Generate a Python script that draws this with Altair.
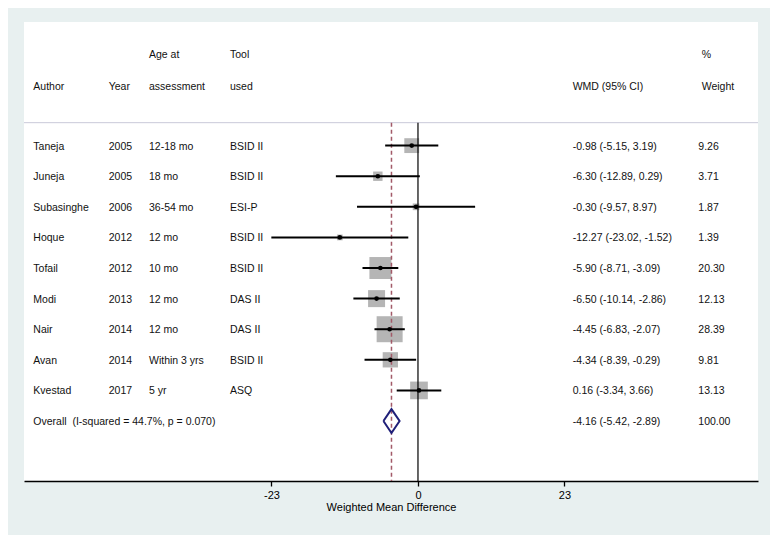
import altair as alt
import pandas as pd

# ---- data ----
authors = ["Taneja", "Juneja", "Subasinghe", "Hoque", "Tofail", "Modi", "Nair", "Avan", "Kvestad"]
years = ["2005", "2005", "2006", "2012", "2012", "2013", "2014", "2014", "2017"]
ages = ["12-18 mo", "18 mo", "36-54 mo", "12 mo", "10 mo", "12 mo", "12 mo", "Within 3 yrs", "5 yr"]
tools = ["BSID II", "BSID II", "ESI-P", "BSID II", "BSID II", "DAS II", "DAS II", "BSID II", "ASQ"]
wmd = [-0.98, -6.30, -0.30, -12.27, -5.90, -6.50, -4.45, -4.34, 0.16]
ci_lo = [-5.15, -12.89, -9.57, -23.02, -8.71, -10.14, -6.83, -8.39, -3.34]
ci_hi = [3.19, 0.29, 8.97, -1.52, -3.09, -2.86, -2.07, -0.29, 3.66]
weights = [9.26, 3.71, 1.87, 1.39, 20.30, 12.13, 28.39, 9.81, 13.13]
overall_est, overall_lo, overall_hi = -4.16, -5.42, -2.89
overall_weight = 100.00
i_squared, p_value = 44.7, 0.070
x_ticks = [-23, 0, 23]

# ---- tables built from the lists ----
n = len(authors)
rows = list(range(1, n + 1))
studies = pd.DataFrame({
    "row": rows, "wmd": wmd, "lo": ci_lo, "hi": ci_hi, "w": weights,
})
overall_row = n + 1
table = pd.DataFrame({
    "row": rows + [overall_row],
    "author": authors + [f"Overall\u00a0\u00a0(I-squared = {i_squared:.1f}%, p = {p_value:.3f})"],
    "year": years + [""],
    "age": ages + [""],
    "tool": tools + [""],
    "ci": [f"{e:.2f} ({l:.2f}, {h:.2f})" for e, l, h in zip(wmd, ci_lo, ci_hi)]
          + [f"{overall_est:.2f} ({overall_lo:.2f}, {overall_hi:.2f})"],
    "weight": [f"{w:.2f}" for w in weights] + [f"{overall_weight:.2f}"],
})
half_h = 0.39
diamond = pd.DataFrame({
    "x": [overall_lo, overall_est, overall_hi, overall_est, overall_lo],
    "row": [overall_row, overall_row - half_h, overall_row, overall_row + half_h, overall_row],
    "o": [0, 1, 2, 3, 4],
})

# ---- layout / style ----
W, H = 734, 459
FONT = "Liberation Sans"
FS = 10.5
xscale = alt.Scale(domain=[-61.85, 53.38], nice=False, zero=False)
yscale = alt.Scale(domain=[-3.04, 11.96], nice=False, zero=False, reverse=True)
xaxis = alt.Axis(values=x_ticks, grid=False, tickSize=5, tickWidth=1.3, tickColor="black",
                 domainColor="black", domainWidth=1.5, labelFont=FONT, labelFontSize=11,
                 labelColor="black", labelPadding=3, titleFont=FONT, titleFontSize=11,
                 titleFontWeight="normal", titleColor="black", titlePadding=1,
                 labelFlush=False,
                 labelExpr="datum.value < 0 ? '-' + abs(datum.value) : '' + datum.value")
XT = "Weighted Mean Difference"


def X(field):
    return alt.X(field, type="quantitative", scale=xscale, axis=xaxis, title=XT)


Y = alt.Y("row:Q", scale=yscale, axis=None)

sep_row = 0.25

base_rule = alt.Chart(pd.DataFrame({"a": [0]}))

separator = base_rule.mark_rule(color="#c9c9d9", strokeWidth=1).encode(
    x=alt.value(0), x2=alt.value(W), y=alt.YDatum(sep_row, scale=yscale, axis=None))

zero_line = base_rule.mark_rule(color="black", strokeWidth=1.2).encode(
    x=alt.XDatum(0, scale=xscale, axis=xaxis, title=XT),
    y=alt.YDatum(sep_row, scale=yscale, axis=None), y2=alt.Y2Datum(11.96))

dash_line = base_rule.mark_rule(color="#a25a68", strokeWidth=1.5, strokeDash=[4, 3]).encode(
    x=alt.XDatum(overall_est, scale=xscale, axis=xaxis, title=XT),
    y=alt.YDatum(sep_row, scale=yscale, axis=None), y2=alt.Y2Datum(11.96))

boxes = alt.Chart(studies).mark_square(filled=True, color="#b5b5b5", opacity=1).encode(
    x=X("wmd"), y=Y,
    size=alt.Size("w:Q", scale=alt.Scale(domain=[0, 100], range=[0, 2380]), legend=None))

cis = alt.Chart(studies).mark_rule(color="black", strokeWidth=2).encode(
    x=X("lo"), x2="hi", y=Y)

dots = alt.Chart(studies).mark_point(filled=True, shape="circle", size=22, color="black", opacity=1).encode(
    x=X("wmd"), y=Y)

dia = alt.Chart(diamond).mark_line(color="#1f1f78", strokeWidth=2).encode(
    x=X("x"), y=Y, order="o:Q")

cols = [
    ("author", 9.3, 9.3, "", "Author"),
    ("year", 84.7, 84.7, "", "Year"),
    ("age", 125, 125, "Age at", "assessment"),
    ("tool", 206, 206, "Tool", "used"),
    ("ci", 548.7, 548.7, "", "WMD (95% CI)"),
    ("weight", 674.3, 677.7, "%", "Weight"),
]
header_rows = [-1.98, -0.96]

text_layers = []
for field, xpx, hxpx, top, bottom in cols:
    text_layers.append(
        alt.Chart(table).mark_text(align="left", baseline="middle", font=FONT, dy=1,
                                   fontSize=FS, color="#111").encode(
            x=alt.value(xpx), y=Y, text=f"{field}:N"))
    hdr = pd.DataFrame({"row": header_rows, "text": [top, bottom]})
    text_layers.append(
        alt.Chart(hdr).mark_text(align="left", baseline="middle", font=FONT, dy=1,
                                 fontSize=FS, color="#111").encode(
            x=alt.value(hxpx), y=Y, text="text:N"))

chart = alt.layer(
    separator, boxes, zero_line, dash_line, cis, dots, dia, *text_layers
).properties(
    width=W, height=H,
    autosize=alt.AutoSizeParams(type="none"),
    padding={"left": 16, "top": 14, "right": 12, "bottom": 54},
).configure(background="#e8f0f0").configure_view(strokeWidth=0, fill="white")

chart.save("out.html", embed_options={"renderer": "svg", "actions": False})
